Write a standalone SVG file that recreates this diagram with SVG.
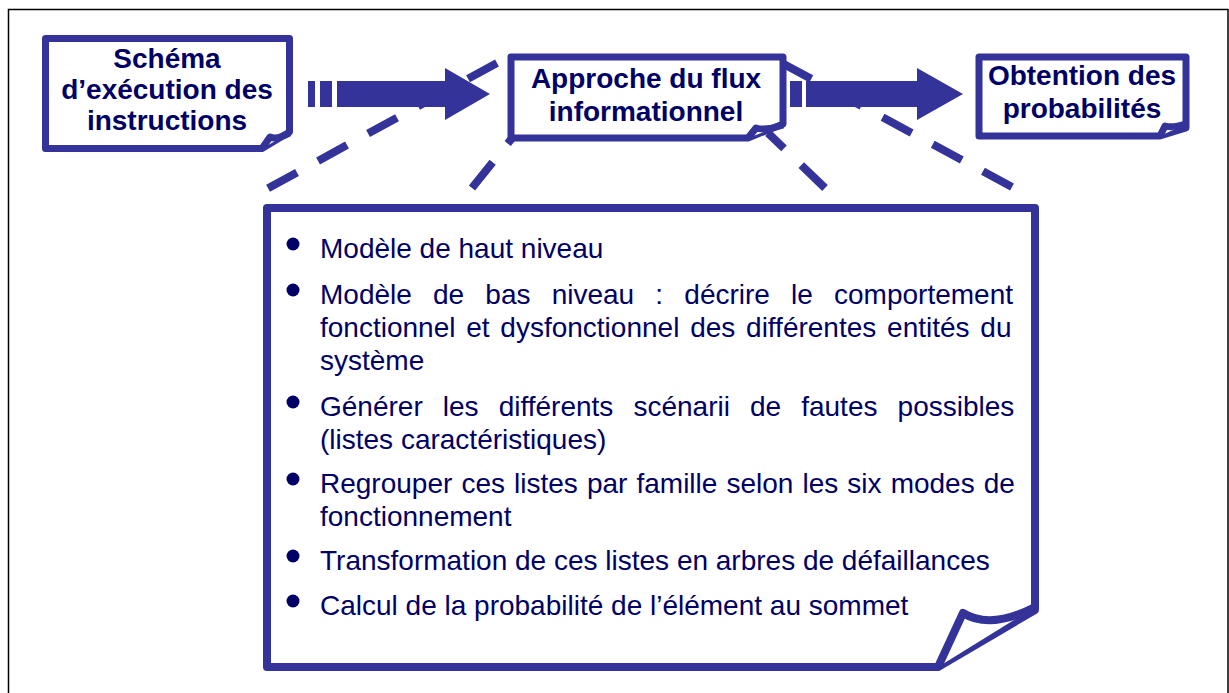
<svg xmlns="http://www.w3.org/2000/svg" width="1229" height="693" viewBox="0 0 1229 693">
<style>
.frame{fill:none;stroke:#000;stroke-width:1.5}
.dash{fill:none;stroke:#333399;stroke-width:8;stroke-dasharray:33 24}
.arrow{fill:#333399}
.box{fill:#fff;stroke:#333399;stroke-width:7;stroke-linejoin:round}
.curl{fill:#fff;stroke:#333399;stroke-width:7;stroke-linejoin:round}
.big{fill:#fff;stroke:#333399;stroke-width:8;stroke-linejoin:round}
.title{font-family:"Liberation Sans",Arial,sans-serif;font-weight:bold;font-size:28px;fill:#000066;text-anchor:middle}
.item{font-family:"Liberation Sans",Arial,sans-serif;font-size:28px;fill:#000066}
.dot{fill:#000066}
</style>
<rect width="1229" height="693" fill="#fff"/>
<rect class="frame" x="8.5" y="9.5" width="1219.5" height="700"/>
<g id="connectors">
  <path class="dash" d="M497,63 L265,190"/>
  <path class="dash" d="M472,188 L513,137"/>
  <path class="dash" d="M825,188 L768,133"/>
  <path class="dash" d="M1012,187 L780,62"/>
  <g id="arrow1">
    <rect class="arrow" x="308" y="81" width="7" height="26"/>
    <rect class="arrow" x="320" y="81" width="12" height="26"/>
    <polygon class="arrow" points="337,81 445,81 445,68 490,94 445,120 445,107 337,107"/>
  </g>
  <g id="arrow2">
    <rect class="arrow" x="790" y="81" width="12" height="26"/>
    <polygon class="arrow" points="806,81 917,81 917,68 963,94 917,120 917,107 806,107"/>
  </g>
</g>
<g id="node-schema">
  <path class="box" d="M45.5,38.5 H289.5 V132 L262,148.5 H45.5 Z"/>
  <path class="curl" d="M262,148.5 L270,137 Q277,140 289.5,133"/>
  <text class="title" x="167" y="68">Schéma</text>
  <text class="title" x="167" y="99">d’exécution des</text>
  <text class="title" x="167" y="130">instructions</text>
</g>
<g id="node-approche">
  <path class="box" d="M511,57 H783 V124 L748,138 H511 Z"/>
  <path class="curl" d="M748,138 L756,128 Q765,131 783,125"/>
  <text class="title" x="646" y="88">Approche du flux</text>
  <text class="title" x="646" y="121">informationnel</text>
</g>
<g id="node-obtention">
  <path class="box" d="M979,57 H1186 V128 L1160,136 H979 Z"/>
  <path class="curl" d="M1160,136 L1165,126 Q1172,128 1186,124"/>
  <text class="title" x="1082" y="85">Obtention des</text>
  <text class="title" x="1082" y="118">probabilités</text>
</g>
<g id="node-details">
  <path class="big" d="M267,208 H1035 V610 L938,667 H267 Z"/>
  <path class="big" d="M938,667 L963,613 Q990,630 1035,607"/>
  <circle class="dot" cx="293" cy="244" r="6.5"/>
  <text class="item" x="320" y="258">Modèle de haut niveau</text>
  <circle class="dot" cx="293" cy="290" r="6.5"/>
  <text class="item" x="320" y="304" word-spacing="13.4">Modèle de bas niveau : décrire le comportement</text>
  <text class="item" x="320" y="337" word-spacing="3">fonctionnel et dysfonctionnel des différentes entités du</text>
  <text class="item" x="320" y="370">système</text>
  <circle class="dot" cx="293" cy="402" r="6.5"/>
  <text class="item" x="320" y="416" word-spacing="12.3">Générer les différents scénarii de fautes possibles</text>
  <text class="item" x="320" y="449">(listes caractéristiques)</text>
  <circle class="dot" cx="293" cy="479" r="6.5"/>
  <text class="item" x="320" y="493" word-spacing="1.3">Regrouper ces listes par famille selon les six modes de</text>
  <text class="item" x="320" y="526">fonctionnement</text>
  <circle class="dot" cx="293" cy="556" r="6.5"/>
  <text class="item" x="320" y="570">Transformation de ces listes en arbres de défaillances</text>
  <circle class="dot" cx="293" cy="601" r="6.5"/>
  <text class="item" x="320" y="615">Calcul de la probabilité de l’élément au sommet</text>
</g>
</svg>
